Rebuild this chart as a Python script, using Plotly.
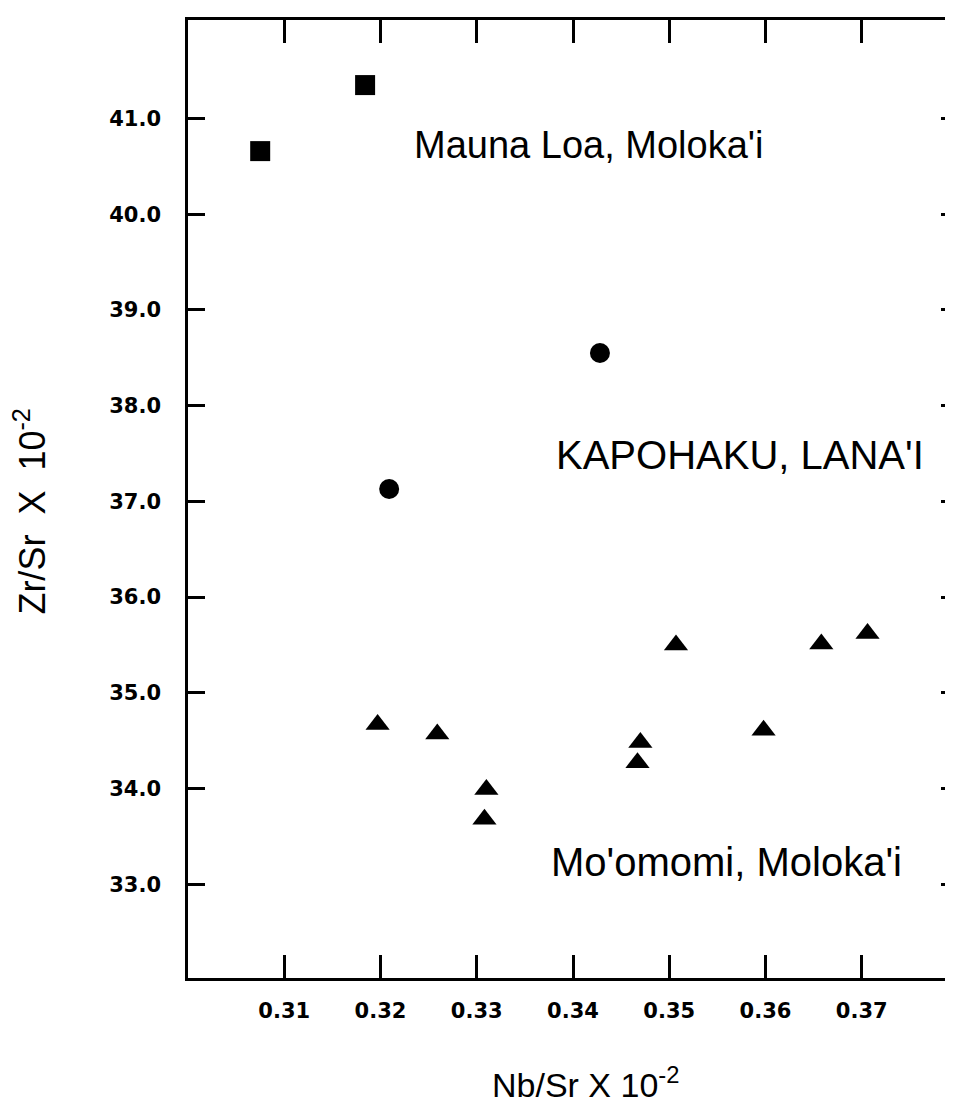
import plotly.graph_objects as go

# ---- data ----
mauna_loa_x = [0.3075, 0.3184]
mauna_loa_y = [40.66, 41.35]

kapohaku_x = [0.3209, 0.3428]
kapohaku_y = [37.13, 38.55]

moomomi_x = [0.3197, 0.3259, 0.3310, 0.3308, 0.3470, 0.3467, 0.3507, 0.3658, 0.3706, 0.3598]
moomomi_y = [34.67, 34.57, 33.99, 33.68, 34.48, 34.27, 35.50, 35.51, 35.62, 34.61]

x_ticks = [0.31, 0.32, 0.33, 0.34, 0.35, 0.36, 0.37]
x_tick_labels = ["0.31", "0.32", "0.33", "0.34", "0.35", "0.36", "0.37"]
y_ticks = [33, 34, 35, 36, 37, 38, 39, 40, 41]
y_tick_labels = ["33.0", "34.0", "35.0", "36.0", "37.0", "38.0", "39.0", "40.0", "41.0"]
x_range = [0.300, 0.380]
y_range = [32.02, 42.03]

labels = ["Mauna Loa, Moloka'i", "KAPOHAKU, LANA'I", "Mo'omomi, Moloka'i"]
label_x = [0.3233, 0.3380, 0.3375]
label_y = [40.72, 37.48, 33.23]
label_sizes = [38, 40, 40]

fig = go.Figure()
fig.add_trace(go.Scatter(x=mauna_loa_x, y=mauna_loa_y, mode="markers", name="Mauna Loa, Moloka'i",
                         marker=dict(symbol="square", size=20, color="black")))
fig.add_trace(go.Scatter(x=kapohaku_x, y=kapohaku_y, mode="markers", name="Kapohaku, Lana'i",
                         marker=dict(symbol="circle", size=20, color="black")))
fig.add_trace(go.Scatter(x=moomomi_x, y=moomomi_y, mode="markers", name="Mo'omomi, Moloka'i",
                         marker=dict(symbol="triangle-up", size=21, color="black")))

for t, lx, ly, fs in zip(labels, label_x, label_y, label_sizes):
    fig.add_annotation(x=lx, y=ly, xref="x", yref="y", text=t, showarrow=False,
                       xanchor="left", yanchor="middle",
                       font=dict(family="Liberation Sans, Arial", size=fs, color="black"))

# axis titles
fig.add_annotation(x=0.516, y=-0.109, xref="paper", yref="paper",
                   text="Nb/Sr X 10<sup>-2</sup>", showarrow=False,
                   xanchor="center", yanchor="middle",
                   font=dict(family="Liberation Sans, Arial", size=34, color="black"))
fig.add_annotation(x=-0.205, y=0.487, xref="paper", yref="paper",
                   text="Zr/Sr\u00a0\u00a0X\u00a0\u00a010<sup>-2</sup>", showarrow=False,
                   textangle=-90, xanchor="center", yanchor="middle",
                   font=dict(family="Liberation Sans, Arial", size=36, color="black"))

axis_common = dict(showline=True, linecolor="black", linewidth=2.5, mirror="ticks",
                   ticks="inside", tickcolor="black", tickwidth=3, layer="above traces",
                   showgrid=False, zeroline=False,
                   tickfont=dict(family="DejaVu Sans", size=21, color="black", weight="bold"))

fig.update_xaxes(range=x_range, tickvals=x_ticks, ticktext=x_tick_labels,
                 ticklen=23, ticklabelstandoff=12, **axis_common)
fig.update_yaxes(range=y_range, tickvals=y_ticks, ticktext=y_tick_labels,
                 ticklen=17, ticklabelstandoff=20, **axis_common)

fig.update_layout(width=953, height=1119, showlegend=False,
                  margin=dict(l=180, r=3, t=12, b=149, autoexpand=False),
                  paper_bgcolor="white", plot_bgcolor="rgba(0,0,0,0)")

fig.write_html("out.html")
